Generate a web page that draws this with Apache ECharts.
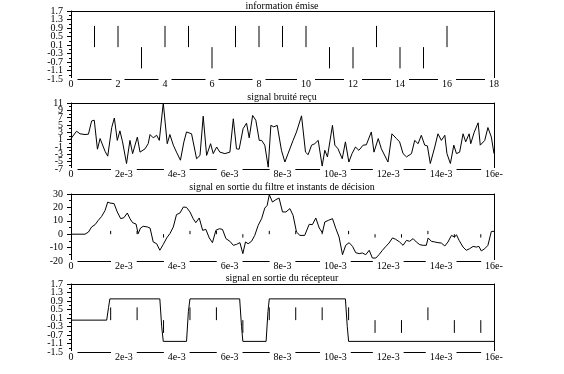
<!DOCTYPE html>
<html>
<head>
<meta charset="utf-8">
<script src="https://cdn.jsdelivr.net/npm/echarts@6/dist/echarts.min.js"></script>
<style>html,body{margin:0;padding:0;background:#fff}#c{width:564px;height:374px}</style>
</head>
<body>
<div id="c"></div>
<script>
// ---- data ----
const titles = ['information émise', 'signal bruité reçu', 'signal en sortie du filtre et instants de décision', 'signal en sortie du récepteur'];
const bitIndex = [1,2,3,4,5,6,7,8,9,10,11,12,13,14,15,16];
const bitValues = [1,1,-1,1,1,-1,1,1,1,1,-1,-1,1,-1,-1,1];
const xTicks1 = ['0','2','4','6','8','10','12','14','16','18'];
const xTicksT = ['0','2e-3','4e-3','6e-3','8e-3','10e-3','12e-3','14e-3','16e-'];
// time in ms
const noisyT = [0,0.21,0.34,0.53,0.66,0.78,0.88,1.0,1.1,1.29,1.39,1.54,1.64,1.75,1.85,1.95,2.1,2.23,2.33,2.51,2.61,2.8,2.92,2.99,3.11,3.24,3.34,3.49,3.64,3.74,3.87,3.99,4.14,4.27,4.37,4.56,4.75,4.88,5.0,5.13,5.28,5.38,5.51,5.63,5.82,6.01,6.14,6.26,6.36,6.51,6.64,6.74,6.87,6.99,7.12,7.21,7.33,7.46,7.56,7.67,7.8,7.96,8.09,8.21,8.4,8.53,8.72,8.87,8.97,9.1,9.22,9.35,9.5,9.6,9.7,9.89,9.98,10.1,10.26,10.38,10.51,10.63,10.76,10.89,11.05,11.17,11.36,11.46,11.62,11.74,11.99,12.14,12.31,12.43,12.56,12.69,12.88,13.0,13.13,13.25,13.38,13.48,13.59,13.76,13.88,14.01,14.14,14.22,14.35,14.48,14.58,14.7,14.83,14.93,15.06,15.12,15.25,15.4,15.48,15.65,15.77,15.9,16];
const noisyV = [1.3,3.3,2.6,2.4,2.5,6.1,6.3,-1.6,1.3,-2.2,-3.5,4.3,6.9,0.8,3.4,0.4,-5.5,0.8,-2.8,1.7,-2.4,-1.5,-0.1,2.4,1.5,2.2,0.8,11,-0.1,2.4,-0.5,-2.4,-4.6,0.4,3.1,2.6,-4.2,-3.3,7.4,-3.3,-0.1,-2.8,-1.0,-2.4,-2.8,-2.4,6.7,-1.5,-1.6,4.0,5.5,1.5,7.6,6.3,0.8,0.8,-0.5,-6.5,4.9,4.5,4.9,-1.9,-5.1,-2.8,0.8,3.1,7.5,-2.4,-3.1,-0.5,-0.1,0.8,-6.2,-1.9,-3.7,4.9,-0.5,-1.5,-4.2,0.4,-5.1,-2.8,-1.0,-1.9,-0.5,-0.4,3.1,-2.4,1.3,-1.5,-5.1,2.6,1.3,0.4,-2.8,-3.7,-2.8,0.8,-0.1,2.2,-0.5,-0.7,-5.5,-1.0,2.6,0.8,2.2,-2.8,-5.5,-0.5,-2.8,-2.4,2.6,0.4,2.6,-0.1,3.0,5.6,-0.5,0.8,4.3,1.7,-2.8];
const filtT = [0,0.53,0.66,0.78,0.91,1.03,1.16,1.29,1.39,1.47,1.63,1.75,1.88,2.0,2.13,2.23,2.33,2.46,2.54,2.63,2.73,2.89,2.99,3.11,3.24,3.36,3.49,3.62,3.74,3.87,3.99,4.12,4.25,4.37,4.5,4.62,4.72,4.85,4.98,5.1,5.23,5.35,5.48,5.61,5.73,5.86,6.01,6.14,6.26,6.39,6.5,6.6,6.7,6.83,6.95,7.08,7.21,7.33,7.42,7.5,7.62,7.75,7.87,8.0,8.13,8.28,8.4,8.53,8.66,8.84,9.01,9.13,9.26,9.39,9.51,9.6,9.73,9.89,10.02,10.14,10.27,10.39,10.52,10.65,10.77,10.9,11.02,11.15,11.28,11.4,11.53,11.65,11.78,11.91,12.03,12.16,12.28,12.43,12.56,12.69,12.81,12.94,13.06,13.19,13.32,13.44,13.51,13.63,13.76,13.88,14.01,14.14,14.26,14.39,14.51,14.58,14.68,14.83,14.95,15.08,15.21,15.33,15.43,15.52,15.65,15.77,15.9,16];
const filtV = [0,0,1.6,5.4,7.1,10.3,13.3,17.8,24.0,23.3,22.8,16.6,11.6,12.3,15.8,11.6,8.6,7.6,0.4,4.6,5.9,5.4,4.6,-5.8,-7.1,-12.0,-7.6,-2.8,0.4,5.4,14.6,15.8,20.3,20.0,16.6,11.6,8.6,12.1,2.9,3.6,-2.8,-6.3,2.9,4.1,3.6,-3.3,-5.3,-8.3,-7.6,-6.3,-14.5,-5.8,-7.1,-5.3,-0.9,6.6,11.6,19.5,21.5,29.5,24.0,25.8,27.0,16.6,16.6,19.1,14.1,1.6,-0.9,-0.9,7.4,7.1,12.1,4.6,1.1,9.1,10.3,11.6,4.1,-2.1,-15.3,-8.3,-6.3,-9.1,-13.8,-14.5,-14.0,-15.3,-12.0,-17.8,-17.8,-15.3,-12.0,-9.1,-6.6,-2.8,-3.8,-5.8,-8.3,-4.6,-5.3,-3.3,-5.8,-7.8,-8.3,-8.3,-2.8,-5.3,-5.8,-6.3,-6.6,-8.8,-5.8,-0.9,-2.1,-0.4,-4.6,-9.6,-12.0,-10.8,-9.1,-9.6,-9.1,-12.5,-10.8,-8.3,2.1,2.1];
const decisionT = [1.5,2.5,3.5,4.5,5.5,6.5,7.5,8.5,9.5,10.5,11.5,12.5,13.5,14.5,15.5];
const filtMarkV = [2.5,2.5,-2.5,2.5,2.5,-2.5,2.5,2.5,2.5,2.5,-2.5,-2.5,2.5,-2.5,-2.5];
const recvMarkV = [0.6,0.6,-0.6,0.6,0.6,-0.6,0.6,0.6,0.6,0.6,-0.6,-0.6,0.6,-0.6,-0.6];
const recvT = [0,1.35,1.42,1.47,3.36,3.43,3.49,4.37,4.44,4.5,6.38,6.45,6.5,7.38,7.45,7.5,10.38,10.45,10.5,16];
const recvV = [0,0,0.6,1,1,-0.3,-1,-1,0.4,1,1,-0.3,-1,-1,0.4,1,1,-0.3,-1,-1];

// ---- chart ----
const FONT = 'Liberation Serif';
const tops = [11, 103, 194, 284];
const heights = [68, 66, 67, 68];
const grids = tops.map((t, i) => ({left: 71, right: 70, top: t, height: heights[i]}));
const xMax = [18, 16, 16, 16];
const yMin = [-1.5, -7, -20, -1.5];
const yMax = [1.7, 11, 30, 1.7];
const yInt = [0.4, 2, 10, 0.4];
const yDec = [1, 0, 0, 1];
const xLabels = [xTicks1, xTicksT, xTicksT, xTicksT];

const blackLine = {show: true, onZero: false, lineStyle: {color: '#000', width: 1}};
const xAxes = [], yAxes = [];
const fmt = (v, dec) => (Math.abs(v) < 1e-9 ? 0 : v).toFixed(dec);
for (let i = 0; i < 4; i++) {
  const labels = xLabels[i];
  xAxes.push({
    type: 'value', gridIndex: i, min: 0, max: xMax[i], interval: 2, position: 'bottom',
    axisLine: blackLine, axisTick: {show: false}, splitLine: {show: false},
    axisLabel: {
      color: '#000', fontFamily: FONT, fontSize: 10, margin: -1, showMinLabel: true, showMaxLabel: true,
      backgroundColor: '#fff', padding: [1, 4, 0, 4],
      formatter: v => labels[Math.round(v / 2)] ?? ''
    }
  });
  xAxes.push({
    type: 'value', gridIndex: i, min: 0, max: xMax[i], position: 'top',
    axisLine: blackLine, axisTick: {show: false}, axisLabel: {show: false}, splitLine: {show: false}
  });
  const dec = yDec[i], lo = yMin[i], hi = yMax[i];
  const labelBase = {color: '#000', fontFamily: FONT, fontSize: 10, margin: 8};
  // main left axis: inner tick labels and ticks
  yAxes.push({
    type: 'value', gridIndex: i, min: lo, max: hi, interval: yInt[i], position: 'left',
    axisLine: blackLine,
    axisTick: {show: true, length: 4, lineStyle: {color: '#000'}},
    minorTick: {show: true, splitNumber: 2, length: 2, lineStyle: {color: '#000'}},
    splitLine: {show: false},
    axisLabel: Object.assign({}, labelBase, {showMinLabel: false, showMaxLabel: false,
      formatter: v => fmt(v, dec)})
  });
  // overlay left axis: end labels only
  yAxes.push({
    type: 'value', gridIndex: i, min: lo, max: hi, interval: yInt[i], position: 'left', offset: 0,
    axisLine: {show: false}, axisTick: {show: false}, splitLine: {show: false},
    axisLabel: Object.assign({}, labelBase, {showMinLabel: true, showMaxLabel: true,
      formatter: v => (Math.abs(v - lo) < 1e-6 || Math.abs(v - hi) < 1e-6) ? fmt(v, dec) : ''})
  });
  yAxes.push({
    type: 'value', gridIndex: i, min: lo, max: hi, position: 'right',
    axisLine: blackLine, axisTick: {show: false}, axisLabel: {show: false}, splitLine: {show: false}
  });
}

function stems(i, xs, vs) {
  return {
    type: 'custom', xAxisIndex: 2 * i, yAxisIndex: 3 * i,
    data: xs.map((x, k) => [x, vs[k]]),
    renderItem: (params, api) => {
      const a = api.coord([api.value(0), 0]);
      const b = api.coord([api.value(0), api.value(1)]);
      return {type: 'line', shape: {x1: a[0], y1: a[1], x2: b[0], y2: b[1]}, style: {stroke: '#000', lineWidth: 1}};
    },
    silent: true
  };
}
function line(i, xs, vs) {
  return {
    type: 'line', xAxisIndex: 2 * i, yAxisIndex: 3 * i, showSymbol: false, symbol: 'none',
    data: xs.map((x, k) => [x, vs[k]]),
    lineStyle: {color: '#000', width: 1}, silent: true
  };
}

const titleTops = [1, 92, 182, 273];
const option = {
  animation: false,
  backgroundColor: '#fff',
  title: titles.map((t, i) => ({text: t, left: 282, top: titleTops[i], textAlign: 'center', padding: 0,
    textStyle: {fontFamily: FONT, fontSize: 10, fontWeight: 'normal', color: '#000'}})),
  grid: grids,
  xAxis: xAxes,
  yAxis: yAxes,
  series: [
    stems(0, bitIndex, bitValues),
    line(1, noisyT, noisyV),
    line(2, filtT, filtV),
    stems(2, decisionT, filtMarkV),
    line(3, recvT, recvV),
    stems(3, decisionT, recvMarkV)
  ]
};
const chart = echarts.init(document.getElementById('c'), null, {renderer: 'canvas'});
chart.setOption(option);
</script>
</body>
</html>
